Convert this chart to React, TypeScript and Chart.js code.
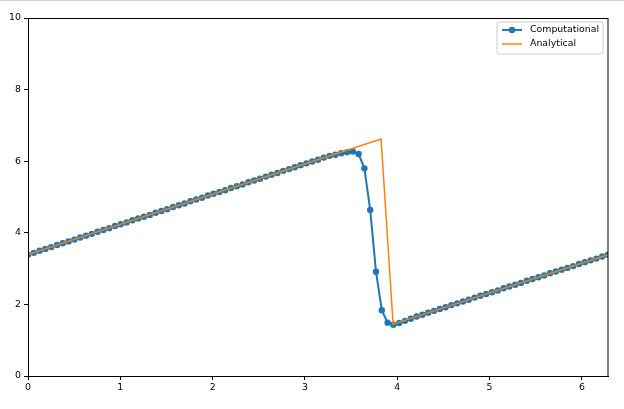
import React, { useEffect, useRef } from "react";
import { Chart, registerables } from "chart.js";

Chart.register(...registerables);

const X_MAX = 2 * Math.PI;
const N_STEPS = 100;
// sampling grid (linspace 0..2π, 101 points)
const xGrid: number[] = Array.from({ length: N_STEPS + 1 }, (_, i) => (i * X_MAX) / N_STEPS);

const computational: number[] = [
  3.39, 3.44, 3.50, 3.55, 3.60, 3.66, 3.71, 3.76, 3.81, 3.87,
  3.92, 3.97, 4.03, 4.08, 4.13, 4.19, 4.24, 4.29, 4.35, 4.40,
  4.45, 4.50, 4.56, 4.61, 4.66, 4.72, 4.77, 4.82, 4.88, 4.93,
  4.98, 5.04, 5.09, 5.14, 5.19, 5.25, 5.30, 5.35, 5.41, 5.46,
  5.51, 5.57, 5.62, 5.67, 5.73, 5.78, 5.83, 5.89, 5.94, 5.99,
  6.04, 6.10, 6.15, 6.18, 6.22, 6.25, 6.27, 6.20, 5.80, 4.64,
  2.91, 1.84, 1.49, 1.43, 1.48, 1.54, 1.60, 1.66, 1.71, 1.77,
  1.82, 1.87, 1.92, 1.98, 2.03, 2.08, 2.13, 2.19, 2.24, 2.29,
  2.34, 2.39, 2.45, 2.50, 2.55, 2.60, 2.66, 2.71, 2.76, 2.81,
  2.87, 2.92, 2.97, 3.02, 3.07, 3.13, 3.18, 3.23, 3.28, 3.34,
  3.39,
];

const analyticalX: number[] = [0, 3.825, 3.955, X_MAX];
const analyticalY: number[] = [3.39, 6.62, 1.45, 3.39];

const xTicks: number[] = [0, 1, 2, 3, 4, 5, 6];
const yTicks: number[] = [0, 2, 4, 6, 8, 10];

const seriesLabels = ["Computational", "Analytical"];
const BLUE = "#1f77b4";
const ORANGE = "#ff7f0e";
const FONT = "'DejaVu Sans', sans-serif";
const FONT_SIZE = 9.4;

const framePlugin = {
  id: "frameAndLegend",
  afterDraw(chart: any) {
    const { ctx, chartArea } = chart;
    const { left, right, top, bottom } = chartArea;
    ctx.save();
    ctx.strokeStyle = "#000";
    ctx.lineWidth = 1;
    ctx.strokeRect(Math.round(left) + 0.5, Math.round(top) + 0.5, Math.round(right - left) - 1 + 0.5, Math.round(bottom - top));
    // legend
    const bx = right - 111;
    const by = top + 4;
    const bw = 106;
    const bh = 32;
    const r = 2;
    ctx.beginPath();
    ctx.moveTo(bx + r, by);
    ctx.lineTo(bx + bw - r, by);
    ctx.quadraticCurveTo(bx + bw, by, bx + bw, by + r);
    ctx.lineTo(bx + bw, by + bh - r);
    ctx.quadraticCurveTo(bx + bw, by + bh, bx + bw - r, by + bh);
    ctx.lineTo(bx + r, by + bh);
    ctx.quadraticCurveTo(bx, by + bh, bx, by + bh - r);
    ctx.lineTo(bx, by + r);
    ctx.quadraticCurveTo(bx, by, bx + r, by);
    ctx.closePath();
    ctx.fillStyle = "rgba(255,255,255,0.8)";
    ctx.fill();
    ctx.strokeStyle = "#cccccc";
    ctx.lineWidth = 1;
    ctx.stroke();

    const hx0 = bx + 5;
    const hx1 = bx + 25;
    const y1 = by + 8;
    const y2 = by + 22;
    ctx.strokeStyle = BLUE;
    ctx.lineWidth = 2;
    ctx.beginPath();
    ctx.moveTo(hx0, y1);
    ctx.lineTo(hx1, y1);
    ctx.stroke();
    ctx.fillStyle = BLUE;
    ctx.beginPath();
    ctx.arc((hx0 + hx1) / 2, y1, 3.2, 0, Math.PI * 2);
    ctx.fill();
    ctx.strokeStyle = ORANGE;
    ctx.lineWidth = 1.5;
    ctx.beginPath();
    ctx.moveTo(hx0, y2);
    ctx.lineTo(hx1, y2);
    ctx.stroke();

    ctx.fillStyle = "#000";
    ctx.font = `${FONT_SIZE}px ${FONT}`;
    ctx.textAlign = "left";
    ctx.textBaseline = "middle";
    ctx.fillText(seriesLabels[0], hx1 + 8, y1);
    ctx.fillText(seriesLabels[1], hx1 + 8, y2);
    ctx.restore();
  },
};

export default function App() {
  const ref = useRef<HTMLCanvasElement | null>(null);
  useEffect(() => {
    if (!ref.current) return;
    const chart = new Chart(ref.current, {
      type: "line",
      data: {
        datasets: [
          {
            label: seriesLabels[0],
            data: xGrid.map((x, i) => ({ x, y: computational[i] })),
            borderColor: BLUE,
            backgroundColor: BLUE,
            borderWidth: 2,
            pointRadius: 3.2,
            pointBorderWidth: 0,
            pointBackgroundColor: BLUE,
            tension: 0,
            order: 1,
            clip: 0,
          },
          {
            label: seriesLabels[1],
            data: analyticalX.map((x, i) => ({ x, y: analyticalY[i] })),
            borderColor: ORANGE,
            backgroundColor: ORANGE,
            borderWidth: 1.5,
            pointRadius: 0,
            tension: 0,
            order: 0,
            clip: 0,
          },
        ],
      },
      options: {
        responsive: false,
        animation: false,
        devicePixelRatio: 1,
        layout: { padding: { top: 18, right: 16, left: 0, bottom: 0 } },
        plugins: { legend: { display: false }, tooltip: { enabled: false } },
        scales: {
          x: {
            type: "linear",
            min: 0,
            max: X_MAX,
            afterBuildTicks: (s: any) => {
              s.ticks = xTicks.map((v) => ({ value: v }));
            },
            afterFit: (s: any) => {
              s.height = 33;
            },
            grid: { drawOnChartArea: false, drawTicks: true, tickLength: 4, color: "#000", tickWidth: 1 },
            border: { display: true, color: "#000" },
            ticks: { color: "#000", padding: 2, font: { family: FONT, size: FONT_SIZE }, maxRotation: 0 },
          },
          y: {
            type: "linear",
            min: 0,
            max: 10,
            afterBuildTicks: (s: any) => {
              s.ticks = yTicks.map((v) => ({ value: v }));
            },
            afterFit: (s: any) => {
              s.width = 28;
            },
            grid: { drawOnChartArea: false, drawTicks: true, tickLength: 4, color: "#000", tickWidth: 1 },
            border: { display: true, color: "#000" },
            ticks: { color: "#000", padding: 3, font: { family: FONT, size: FONT_SIZE } },
          },
        },
      },
      plugins: [framePlugin],
    });
    return () => chart.destroy();
  }, []);
  return (
    <div style={{ position: "absolute", left: 0, top: 0, width: 624, height: 409, background: "#fff" }}>
      <div style={{ position: "absolute", left: 0, top: 0, width: 624, height: 1, background: "#d0d0d0" }} />
      <canvas ref={ref} width={624} height={409} style={{ display: "block", width: 624, height: 409 }} />
    </div>
  );
}
